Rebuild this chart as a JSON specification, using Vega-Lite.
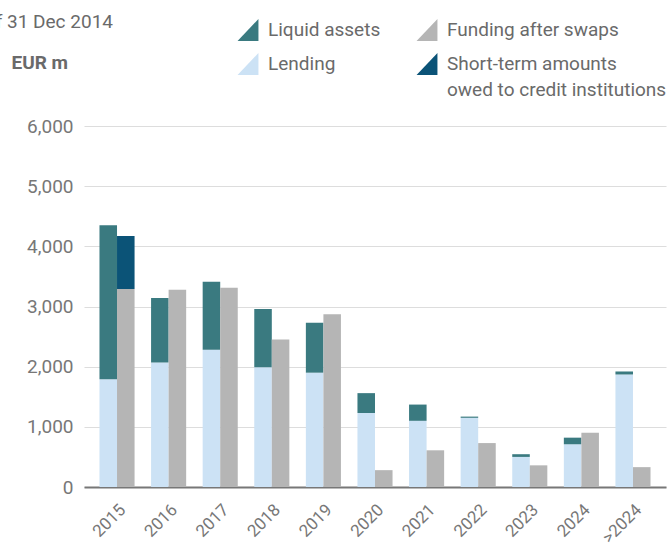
{
  "$schema": "https://vega.github.io/schema/vega-lite/v6.json",
  "width": 582,
  "height": 361,
  "autosize": {"type": "none"},
  "padding": {"left": 84, "top": 126, "right": 4, "bottom": 60},
  "background": "white",
  "config": {"view": {"stroke": null}},
  "title": {
    "text": "as of 31 Dec 2014",
    "anchor": "start",
    "frame": "group",
    "dx": -124,
    "dy": 17,
    "fontSize": 19,
    "font": "Roboto",
    "fontWeight": "normal",
    "color": "#6a6a6a"
  },
  "data": {
    "values": [
      {"year": "2015", "side": "A", "series": "Lending", "value": 1790},
      {"year": "2015", "side": "A", "series": "Liquid assets", "value": 2560},
      {"year": "2015", "side": "L", "series": "Funding after swaps", "value": 3290},
      {"year": "2015", "side": "L", "series": "Short-term amounts owed to credit institutions", "value": 880},
      {"year": "2016", "side": "A", "series": "Lending", "value": 2070},
      {"year": "2016", "side": "A", "series": "Liquid assets", "value": 1070},
      {"year": "2016", "side": "L", "series": "Funding after swaps", "value": 3280},
      {"year": "2017", "side": "A", "series": "Lending", "value": 2280},
      {"year": "2017", "side": "A", "series": "Liquid assets", "value": 1130},
      {"year": "2017", "side": "L", "series": "Funding after swaps", "value": 3310},
      {"year": "2018", "side": "A", "series": "Lending", "value": 1990},
      {"year": "2018", "side": "A", "series": "Liquid assets", "value": 970},
      {"year": "2018", "side": "L", "series": "Funding after swaps", "value": 2450},
      {"year": "2019", "side": "A", "series": "Lending", "value": 1900},
      {"year": "2019", "side": "A", "series": "Liquid assets", "value": 830},
      {"year": "2019", "side": "L", "series": "Funding after swaps", "value": 2870},
      {"year": "2020", "side": "A", "series": "Lending", "value": 1230},
      {"year": "2020", "side": "A", "series": "Liquid assets", "value": 330},
      {"year": "2020", "side": "L", "series": "Funding after swaps", "value": 280},
      {"year": "2021", "side": "A", "series": "Lending", "value": 1100},
      {"year": "2021", "side": "A", "series": "Liquid assets", "value": 270},
      {"year": "2021", "side": "L", "series": "Funding after swaps", "value": 610},
      {"year": "2022", "side": "A", "series": "Lending", "value": 1150},
      {"year": "2022", "side": "A", "series": "Liquid assets", "value": 20},
      {"year": "2022", "side": "L", "series": "Funding after swaps", "value": 730},
      {"year": "2023", "side": "A", "series": "Lending", "value": 500},
      {"year": "2023", "side": "A", "series": "Liquid assets", "value": 45},
      {"year": "2023", "side": "L", "series": "Funding after swaps", "value": 360},
      {"year": "2024", "side": "A", "series": "Lending", "value": 710},
      {"year": "2024", "side": "A", "series": "Liquid assets", "value": 110},
      {"year": "2024", "side": "L", "series": "Funding after swaps", "value": 900},
      {"year": ">2024", "side": "A", "series": "Lending", "value": 1870},
      {"year": ">2024", "side": "A", "series": "Liquid assets", "value": 50},
      {"year": ">2024", "side": "L", "series": "Funding after swaps", "value": 330}
    ]
  },
  "mark": {"type": "bar"},
  "encoding": {
    "x": {
      "field": "year",
      "type": "nominal",
      "sort": ["2015","2016","2017","2018","2019","2020","2021","2022","2023","2024",">2024"],
      "scale": {"paddingInner": 0.32, "paddingOuter": 0.3},
      "axis": {
        "title": null,
        "labelAngle": -45,
        "labelAlign": "right",
        "labelBaseline": "middle",
        "labelPadding": 20,
        "labelOffset": 6,
        "ticks": false,
        "tickSize": 0,
        "domainColor": "#777777",
        "domainWidth": 2,
        "labelFont": "Roboto",
        "labelFontSize": 17,
        "labelColor": "#777777",
        "grid": false
      }
    },
    "xOffset": {"field": "side", "type": "nominal", "sort": ["A", "L"]},
    "y": {
      "field": "value",
      "type": "quantitative",
      "aggregate": "sum",
      "stack": "zero",
      "scale": {"domain": [0, 6000]},
      "axis": {
        "title": "EUR m",
        "titleAngle": 0,
        "titleAlign": "left",
        "titleBaseline": "middle",
        "titleX": -73,
        "titleY": -64,
        "titleFont": "Roboto",
        "titleFontSize": 19,
        "titleFontWeight": "bold",
        "titleColor": "#6a6a6a",
        "values": [0, 1000, 2000, 3000, 4000, 5000, 6000],
        "format": ",d",
        "domain": false,
        "ticks": false,
        "tickSize": 0,
        "labelPadding": 11,
        "labelFont": "Roboto",
        "labelFontSize": 19,
        "labelColor": "#777777",
        "gridColor": "#dddddd",
        "gridWidth": 1
      }
    },
    "order": {"field": "series", "type": "nominal", "sort": "ascending"},
    "color": {
      "field": "series",
      "type": "nominal",
      "scale": {
        "domain": ["Liquid assets", "Funding after swaps", "Lending", "Short-term amounts owed to credit institutions"],
        "range": ["#3a7a80", "#b5b5b5", "#cce2f5", "#0b5377"]
      },
      "legend": {
        "title": null,
        "orient": "none",
        "legendX": 153,
        "legendY": -107,
        "direction": "horizontal",
        "columns": 2,
        "padding": 0,
        "columnPadding": 35,
        "rowPadding": 12,
        "symbolType": "M0.95,-1L0.95,1L-0.95,1Z",
        "symbolSize": 484,
        "symbolStrokeWidth": 0,
        "symbolOpacity": 1,
        "labelOffset": 9,
        "labelFont": "Roboto",
        "labelFontSize": 19,
        "labelColor": "#6a6a6a",
        "labelLimit": 400,
        "labelExpr": "datum.label == 'Short-term amounts owed to credit institutions' ? ['Short-term amounts', 'owed to credit institutions'] : datum.label",
        "encode": {"labels": {"update": {"lineHeight": {"value": 26}}}}
      }
    }
  }
}
